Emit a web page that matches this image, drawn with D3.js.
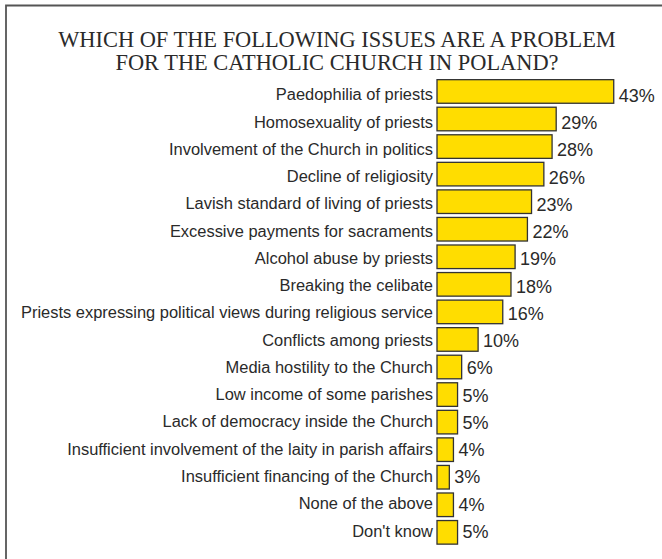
<!DOCTYPE html>
<html>
<head>
<meta charset="utf-8">
<script src="https://cdn.jsdelivr.net/npm/d3@7"></script>
<style>
  html, body { margin: 0; padding: 0; background: #fff; }
  svg { display: block; }
</style>
</head>
<body>
<script>
const titleLines = ["WHICH OF THE FOLLOWING ISSUES ARE A PROBLEM", "FOR THE CATHOLIC CHURCH IN POLAND?"];
const categories = [
  "Paedophilia of priests",
  "Homosexuality of priests",
  "Involvement of the Church in politics",
  "Decline of religiosity",
  "Lavish standard of living of priests",
  "Excessive payments for sacraments",
  "Alcohol abuse by priests",
  "Breaking the celibate",
  "Priests expressing political views during religious service",
  "Conflicts among priests",
  "Media hostility to the Church",
  "Low income of some parishes",
  "Lack of democracy inside the Church",
  "Insufficient involvement of the laity in parish affairs",
  "Insufficient financing of the Church",
  "None of the above",
  "Don't know"
];
const values = [43, 29, 28, 26, 23, 22, 19, 18, 16, 10, 6, 5, 5, 4, 3, 4, 5];

const W = 662, H = 559;
const svg = d3.select("body").append("svg").attr("width", W).attr("height", H);

// frame (open on right and bottom, as in reference)
svg.append("path")
  .attr("d", `M6,${H + 2} V5.5 H${W + 2}`)
  .attr("fill", "none")
  .attr("stroke", "#555")
  .attr("stroke-width", 1.8);

// title
svg.append("g").selectAll("text").data(titleLines).join("text")
  .attr("x", 337)
  .attr("y", (d, i) => 46.5 + i * 23)
  .attr("text-anchor", "middle")
  .attr("font-family", "'Liberation Serif', 'Times New Roman', serif")
  .attr("font-size", 22.4)
  .attr("fill", "#2a2a2a")
  .text(d => d);

const x0 = 437;
const x = d3.scaleLinear().domain([0, 100]).range([0, 411]);
const y = d3.scaleBand().domain(categories).range([75.7, 548.1]).padding(0.144);
// text baselines sit on a slightly tighter pitch than the bars
const yText = d3.scalePoint().domain(categories).range([100.3, 536.5]);

svg.append("g").selectAll("rect").data(values).join("rect")
  .attr("x", x0)
  .attr("y", (d, i) => y(categories[i]))
  .attr("width", d => x(d))
  .attr("height", y.bandwidth())
  .attr("fill", "#FFDD00")
  .attr("stroke", "#333")
  .attr("stroke-width", 1.3);

svg.append("g").selectAll("text").data(categories).join("text")
  .attr("x", 433)
  .attr("y", d => yText(d))
  .attr("text-anchor", "end")
  .attr("font-family", "'Liberation Sans', Arial, sans-serif")
  .attr("font-size", 16.45)
  .attr("fill", "#2a2a2a")
  .text(d => d);

svg.append("g").selectAll("text").data(values).join("text")
  .attr("x", d => x0 + x(d) + 5)
  .attr("y", (d, i) => yText(categories[i]) + 1.5)
  .attr("font-family", "'Liberation Sans', Arial, sans-serif")
  .attr("font-size", 18)
  .attr("fill", "#2a2a2a")
  .text(d => d + "%");
</script>
</body>
</html>
